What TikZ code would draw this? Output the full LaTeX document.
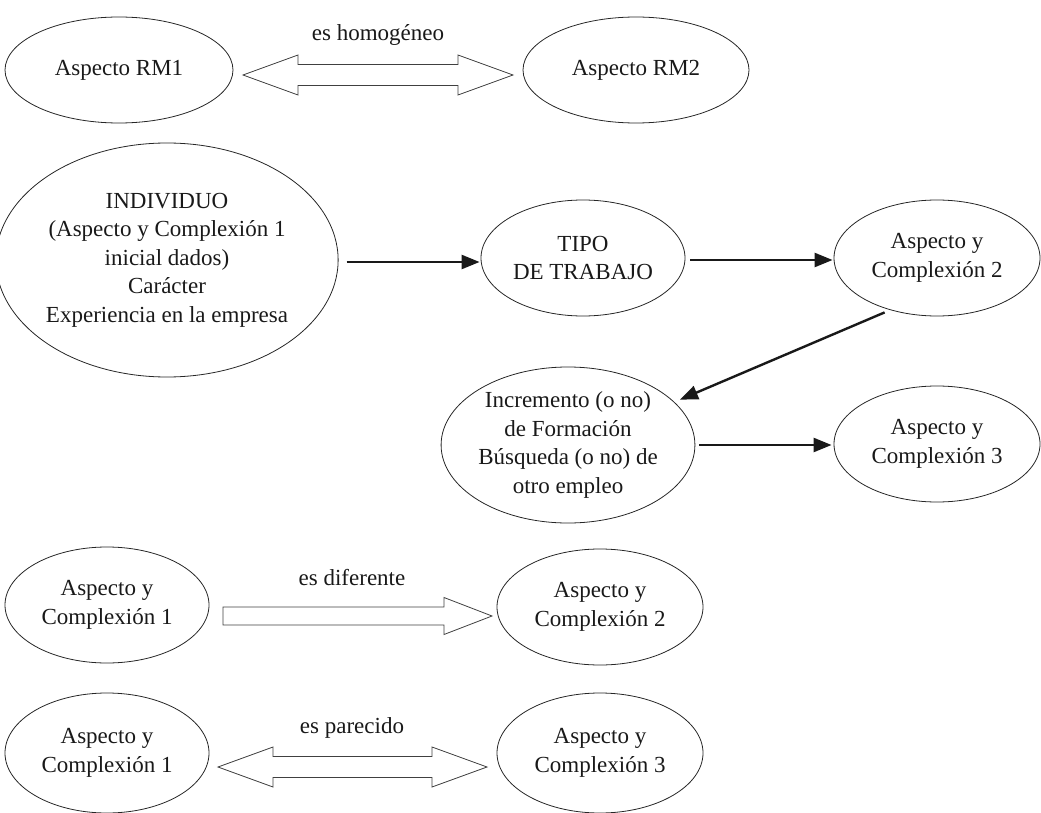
\documentclass[tikz,border=0pt]{standalone}
\usepackage{fontspec}
\setmainfont{Liberation Serif}
\usetikzlibrary{shapes.geometric,arrows.meta,calc}

% hollow two-headed block arrow between two tip points
\newcommand{\twowayarrow}[2]{%
  \draw[hollow] (#1) -- ++(55,-20) -- ++(0,9.5) -- ($(#2)+(-55,-10.5)$)
    -- ++(0,-9.5) -- (#2) -- ++(-55,20) -- ++(0,-9.5)
    -- ($(#1)+(55,10.5)$) -- ++(0,9.5) -- cycle;}
% hollow one-headed block arrow from a tail point to a tip point
\newcommand{\onewayarrow}[2]{%
  \draw[hollow] ($(#1)+(0,-9)$) -- ($(#2)+(-48,-9)$) -- ++(0,-9.5)
    -- (#2) -- ++(-48,18.5) -- ++(0,-9.5) -- ($(#1)+(0,9)$) -- cycle;}

\begin{document}
\begin{tikzpicture}[x=1pt,y=-1pt,
  every node/.style={font=\fontsize{23}{28.5}\selectfont, text=black!90},
  bubble/.style={ellipse, draw=black!85, line width=0.8pt, inner sep=0pt, align=center},
  hollow/.style={draw=black!75, line width=0.8pt, fill=white, line join=miter},
  flow/.style={draw=black!90, line width=2.4pt, -{Triangle[length=18pt,width=14pt]}},
  tag/.style={inner sep=0pt}]
\useasboundingbox (0,0) rectangle (1041,813);

% top row
\node[bubble, minimum width=228pt, minimum height=106pt] (rm1) at (119,70) {Aspecto RM1};
\node[bubble, minimum width=226pt, minimum height=106pt] (rm2) at (636,70) {Aspecto RM2};
\coordinate (homL) at (243,75);
\coordinate (homR) at (513,75);
\twowayarrow{homL}{homR}
\node[tag] (homtxt) at (378,35) {es homogéneo};

% process chain
\node[bubble, minimum width=324pt, minimum height=234pt] (indiv) at (167,260)
  {INDIVIDUO\\(Aspecto y Complexión 1\\inicial dados)\\Carácter\\Experiencia en la empresa};
\node[bubble, minimum width=204pt, minimum height=116pt] (tipo) at (583,258) {TIPO\\DE TRABAJO};
\node[bubble, minimum width=206pt, minimum height=116pt] (ac2) at (937,258) {Aspecto y\\Complexión 2};
\node[bubble, minimum width=234pt, minimum height=156pt] (incr) at (568,445)
  {Incremento (o no)\\de Formación\\Búsqueda (o no) de\\otro empleo};
\node[bubble, minimum width=206pt, minimum height=116pt] (ac3) at (937,444) {Aspecto y\\Complexión 3};

\draw[flow, shorten <=8pt, shorten >=1pt] ($(indiv.east)+(0,2)$) -- ($(tipo.west)+(0,4)$);
\draw[flow, shorten <=5pt, shorten >=1pt] ($(tipo.east)+(0,2)$) -- ($(ac2.west)+(0,2)$);
\draw[flow, shorten <=6pt, shorten >=6pt] (ac2.228) -- (incr.22);
\draw[flow, shorten <=4pt, shorten >=2pt] (incr.east) -- ($(ac3.west)+(0,1)$);

% different
\node[bubble, minimum width=204pt, minimum height=116pt] (d1) at (107,605) {Aspecto y\\Complexión 1};
\node[bubble, minimum width=206pt, minimum height=116pt] (d2) at (600,607) {Aspecto y\\Complexión 2};
\coordinate (difL) at (223,616);
\coordinate (difR) at (492,616);
\onewayarrow{difL}{difR}
\node[tag] (diftxt) at (352,578) {es diferente};

% similar
\node[bubble, minimum width=204pt, minimum height=120pt] (p1) at (107,753) {Aspecto y\\Complexión 1};
\node[bubble, minimum width=206pt, minimum height=120pt] (p3) at (600,753) {Aspecto y\\Complexión 3};
\coordinate (parL) at (218,767);
\coordinate (parR) at (487,767);
\twowayarrow{parL}{parR}
\node[tag] (partxt) at (352,728) {es parecido};
\end{tikzpicture}
\end{document}
